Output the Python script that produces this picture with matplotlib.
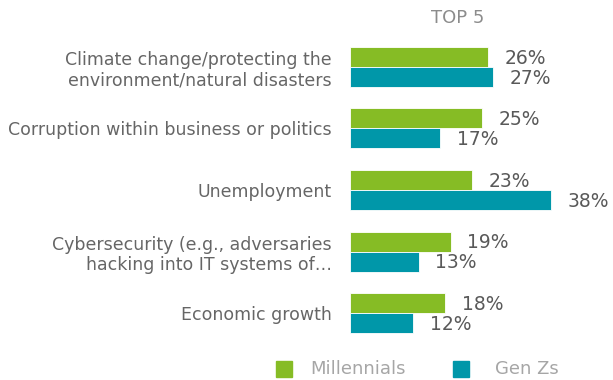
import matplotlib.pyplot as plt
from matplotlib.patches import Rectangle

categories = [
    'Climate change/protecting the\nenvironment/natural disasters',
    'Corruption within business or politics',
    'Unemployment',
    'Cybersecurity (e.g., adversaries\nhacking into IT systems of\u2026',
    'Economic growth',
]
millennials = [26, 25, 23, 19, 18]
gen_zs = [27, 17, 38, 13, 12]
series_names = ['Millennials', 'Gen Zs']
colors = ['#86BC25', '#0097A9']

W, H = 613, 380
fig = plt.figure(figsize=(W / 100, H / 100), dpi=100)
ax = fig.add_axes([350 / W, 36 / H, 263 / W, 308 / H])

bar_h = 0.325
pos = list(range(len(categories)))
ax.barh([p - bar_h / 2 for p in pos], millennials, height=bar_h,
        color=colors[0], edgecolor='white', linewidth=0.6)
ax.barh([p + bar_h / 2 for p in pos], gen_zs, height=bar_h,
        color=colors[1], edgecolor='white', linewidth=0.6)

# value labels to the right of each bar
for p, m, g in zip(pos, millennials, gen_zs):
    ax.annotate(f'{m}%', (m, p - bar_h / 2), xytext=(12, -1), textcoords='offset points',
                va='center', ha='left', fontsize=13.5, color='#595959')
    ax.annotate(f'{g}%', (g, p + bar_h / 2), xytext=(12, -1), textcoords='offset points',
                va='center', ha='left', fontsize=13.5, color='#595959')

ax.set_xlim(0, 263 / 5.29)
ax.set_ylim(4.5, -0.5)
ax.set_yticks(pos)
ax.set_yticklabels(categories, fontsize=12.5, color='#666666', ha='right')
ax.tick_params(axis='y', length=0, pad=13)
ax.set_xticks([])
for s in ax.spines.values():
    s.set_visible(False)

fig.text(458 / W, 1 - 18 / H, 'TOP 5', ha='center', va='center',
         fontsize=13, color='#8c8c8c')

# legend drawn by hand: square swatch + label
legend_x = [276, 453]
text_x = [310, 495]
for name, c, lx, tx in zip(series_names, colors, legend_x, text_x):
    fig.add_artist(Rectangle((lx / W, (H - 377) / H), 16 / W, 16 / H,
                             transform=fig.transFigure, color=c))
    fig.text(tx / W, (H - 369) / H, name, ha='left', va='center',
             fontsize=13, color='#a6a6a6')

fig.savefig('out.png', dpi=100)
